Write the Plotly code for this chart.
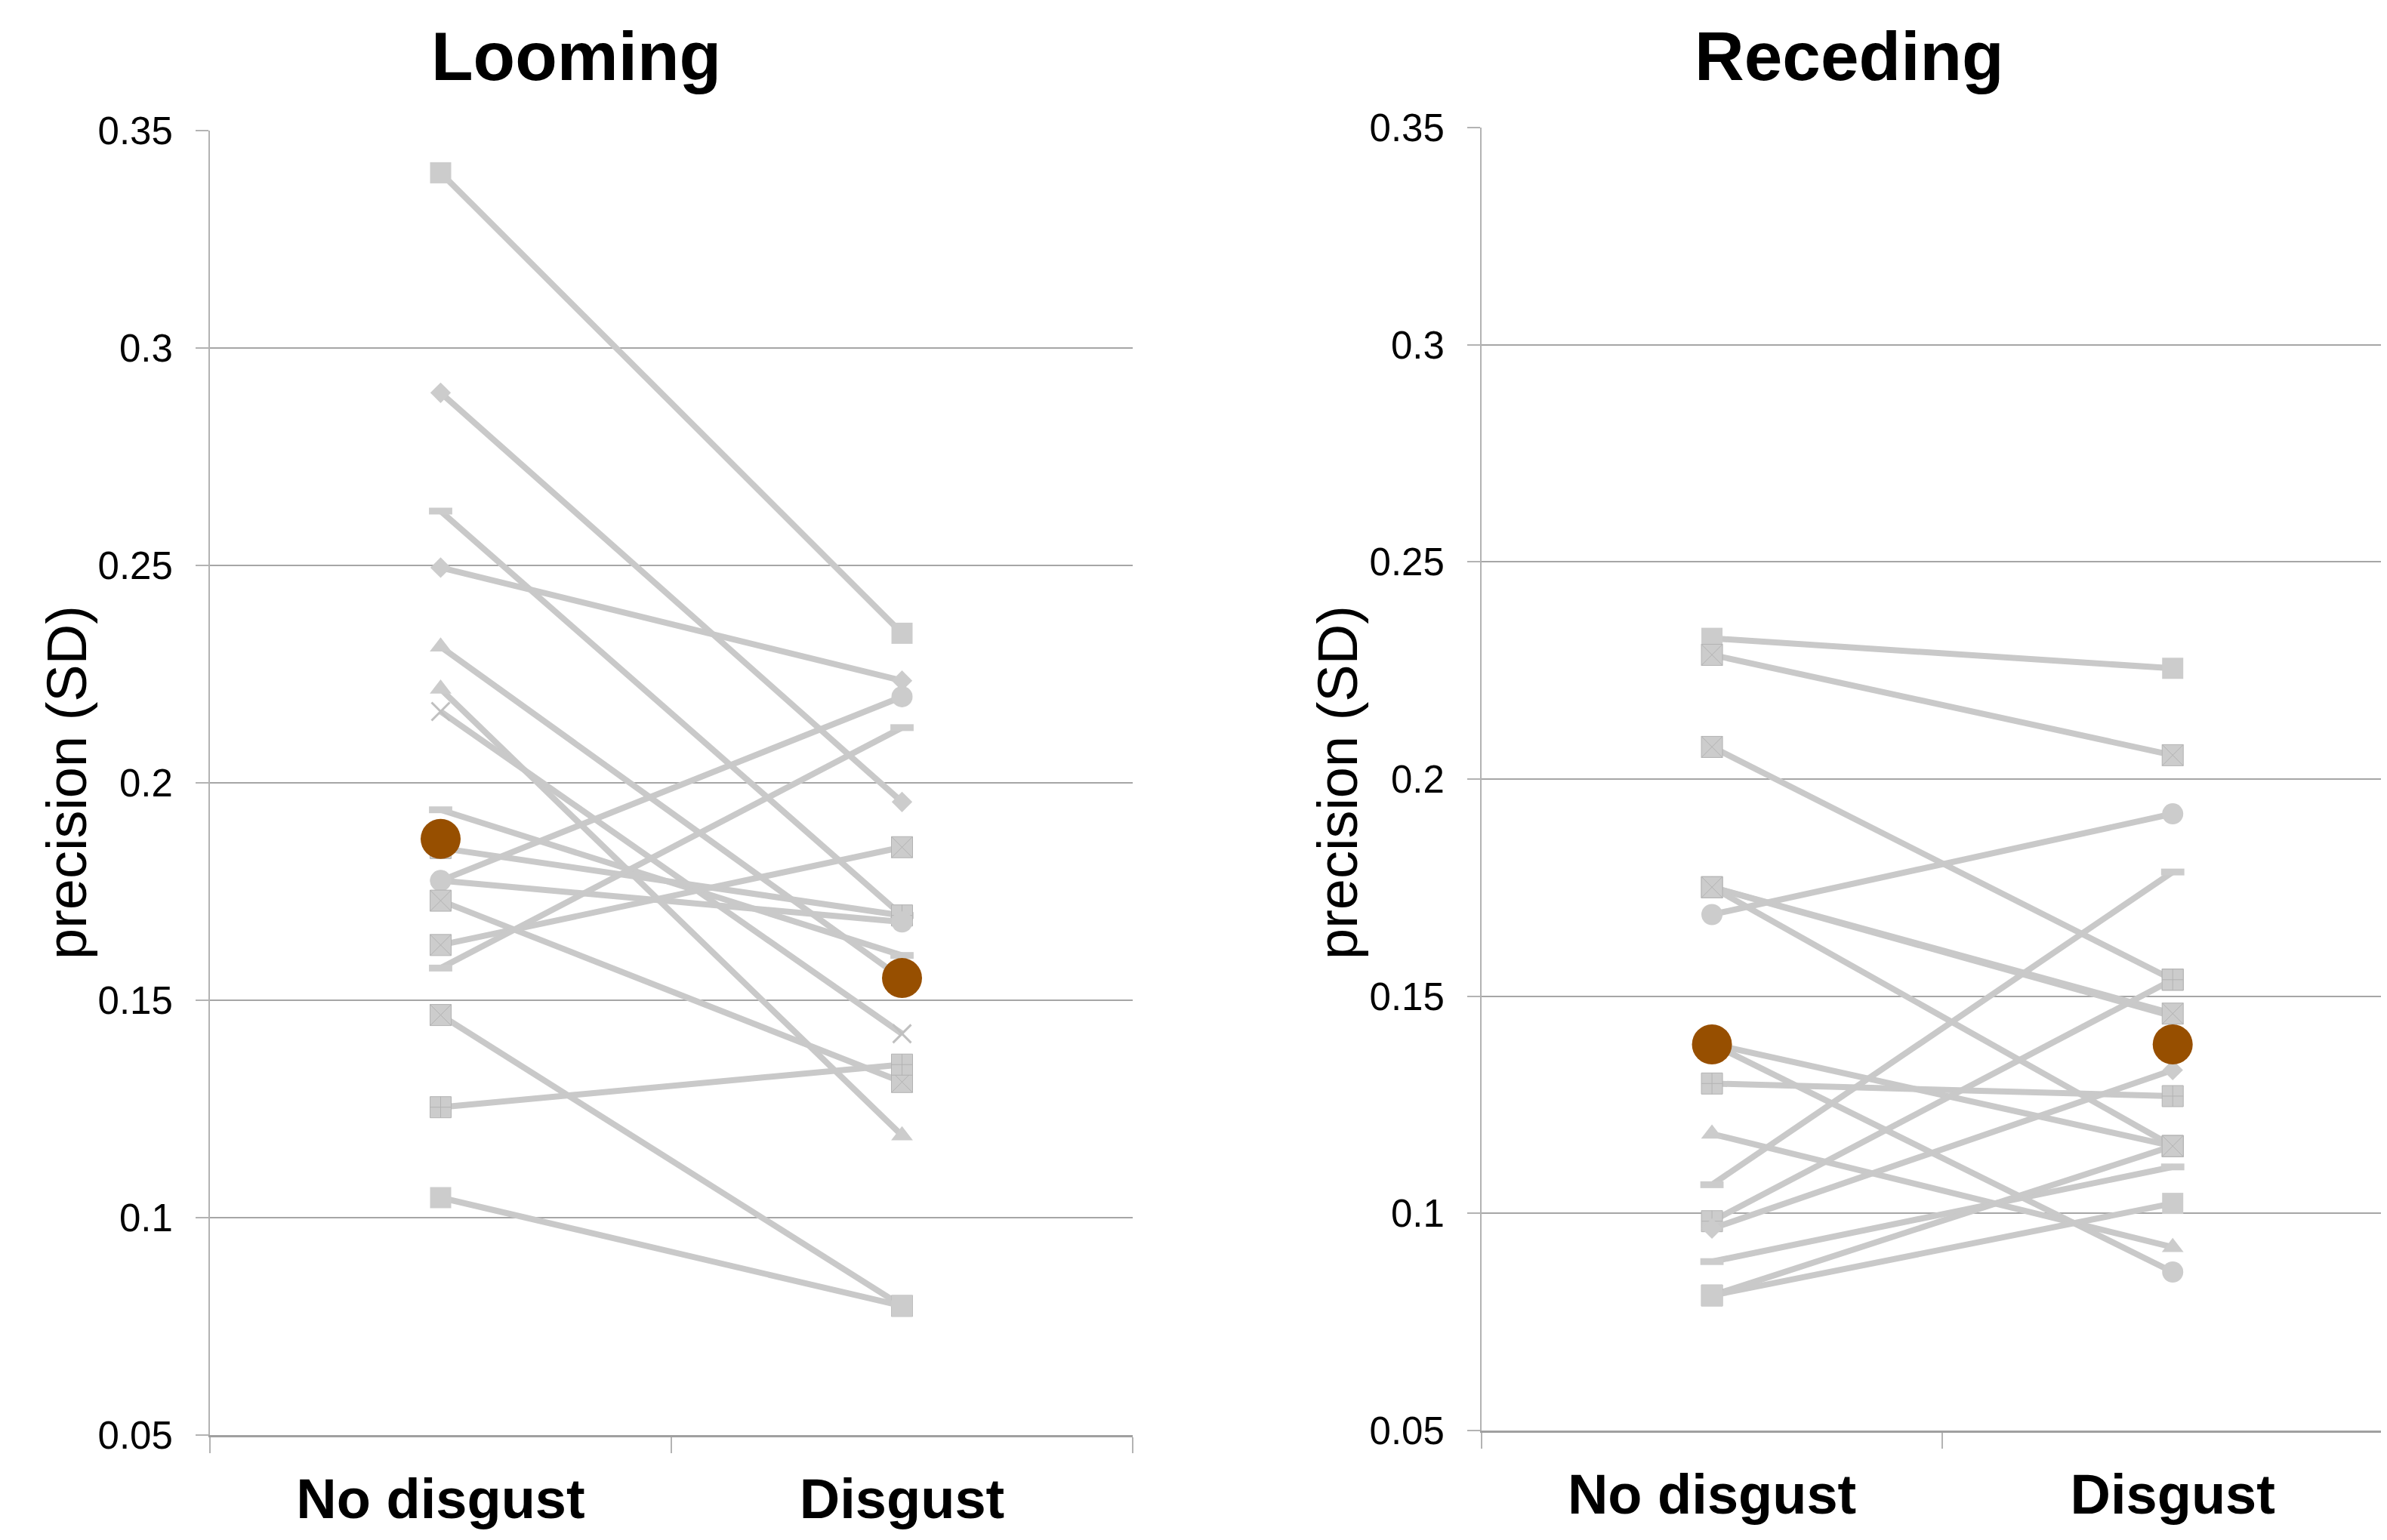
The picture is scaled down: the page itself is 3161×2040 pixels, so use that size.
import plotly.graph_objects as go

# ---------------- data ----------------
categories = ["No disgust", "Disgust"]
y_tick_values = [0.05, 0.10, 0.15, 0.20, 0.25, 0.30, 0.35]
y_tick_labels = ["0.05", "0.1", "0.15", "0.2", "0.25", "0.3", "0.35"]
panel_titles = ["Looming", "Receding"]
y_title = "precision (SD)"

looming_no_disgust = [0.3403, 0.2897, 0.2625, 0.2495, 0.2313, 0.2216, 0.2164, 0.1938, 0.1850,
                      0.1775, 0.1775, 0.1729, 0.1627, 0.1574, 0.1466, 0.1254, 0.1046]
looming_disgust = [0.2344, 0.1956, 0.1695, 0.2235, 0.1550, 0.1189, 0.1423, 0.1603, 0.1695,
                   0.2198, 0.1680, 0.1312, 0.1852, 0.2127, 0.0797, 0.1352, 0.0797]
looming_mean = [0.1871, 0.1551]

receding_no_disgust = [0.2324, 0.2286, 0.2074, 0.1751, 0.1751, 0.1751, 0.1688, 0.1390, 0.1390,
                       0.1299, 0.1183, 0.1066, 0.0982, 0.0965, 0.0889, 0.0811, 0.0811]
receding_disgust = [0.2255, 0.2055, 0.1538, 0.1454, 0.1460, 0.1155, 0.1920, 0.0865, 0.1155,
                    0.1270, 0.0922, 0.1786, 0.1538, 0.1330, 0.1107, 0.1155, 0.1023]
receding_mean = [0.1389, 0.1389]

# ---------------- styles ----------------
looming_symbols = ["square", "diamond", "line-ew", "diamond", "triangle-up", "triangle-up", "x-thin",
                   "line-ew", "square-cross", "circle", "circle", "square-x", "square-x", "line-ew",
                   "square-x", "square-cross", "square"]
receding_symbols = ["square", "square-x", "square-x", "diamond", "square-x", "square-x", "circle",
                    "circle", "square-x", "square-cross", "triangle-up", "line-ew", "square-cross",
                    "diamond", "line-ew", "square-x", "square"]

GRAY_FILL = "#cccccc"
GRAY_LINE = "#c9c9c9"
BROWN = "#974f00"
GRID = "#a6a6a6"
AXIS = "#b3b3b3"
FONT = "Liberation Sans, Arial, Helvetica, sans-serif"

# page body has an 8px margin; size the figure to fit the 3161x2040 window
OFF = 8
W, H = 3161 - 2 * OFF, 2040 - 2 * OFF


def fx(px):
    return (px - OFF) / W


def fy(py):
    return 1 - (py - OFF) / H


def marker_style(sym):
    if sym == "line-ew":
        return dict(symbol=sym, size=22, color=GRAY_FILL, line=dict(color=GRAY_FILL, width=9))
    if sym == "x-thin":
        return dict(symbol=sym, size=24, color=GRAY_FILL, line=dict(color="#c0c0c0", width=3))
    if sym == "diamond":
        return dict(symbol=sym, size=21, color=GRAY_FILL, line=dict(width=0))
    if sym == "triangle-up":
        return dict(symbol=sym, size=25, color=GRAY_FILL, line=dict(width=0))
    if sym in ("square-x", "square-cross"):
        return dict(symbol=sym, size=28, color=GRAY_FILL, line=dict(color="#b3b3b3", width=1))
    if sym == "circle":
        return dict(symbol=sym, size=28, color=GRAY_FILL, line=dict(width=0))
    return dict(symbol=sym, size=28, color=GRAY_FILL, line=dict(width=0))


fig = go.Figure()

panels = [
    (looming_no_disgust, looming_disgust, looming_mean, looming_symbols, "x", "y"),
    (receding_no_disgust, receding_disgust, receding_mean, receding_symbols, "x2", "y2"),
]

for no_vals, dis_vals, mean_vals, syms, xa, ya in panels:
    for a, b, s in zip(no_vals, dis_vals, syms):
        fig.add_trace(go.Scatter(
            x=categories, y=[a, b], mode="lines+markers",
            line=dict(color=GRAY_LINE, width=8),
            marker=marker_style(s),
            xaxis=xa, yaxis=ya, hoverinfo="skip", showlegend=False,
        ))
for no_vals, dis_vals, mean_vals, syms, xa, ya in panels:
    fig.add_trace(go.Scatter(
        x=categories, y=mean_vals, mode="markers",
        marker=dict(symbol="circle", size=53, color=BROWN, line=dict(width=0)),
        xaxis=xa, yaxis=ya, hoverinfo="skip", showlegend=False,
    ))


def xaxis_style(domain, rng):
    return dict(
        domain=domain, type="category", range=rng, automargin=False,
        tickson="boundaries", ticks="outside", ticklen=21, tickwidth=2, tickcolor=AXIS,
        showline=True, linecolor="#a0a0a0", linewidth=3,
        showgrid=False, zeroline=False,
        tickfont=dict(family=FONT, size=74, color="black", weight="bold"),
        ticklabelstandoff=18,
    )


def yaxis_style(domain, anchor):
    return dict(
        domain=domain, anchor=anchor, range=[0.05, 0.35], automargin=False,
        tickmode="array", tickvals=y_tick_values, ticktext=y_tick_labels,
        ticks="outside", ticklen=17, tickwidth=2, tickcolor=AXIS,
        showline=True, linecolor=AXIS, linewidth=2,
        showgrid=True, gridcolor=GRID, gridwidth=2, zeroline=False,
        tickfont=dict(family=FONT, size=51, color="black"),
        ticklabelstandoff=20,
    )


fig.update_layout(
    width=W, height=H,
    margin=dict(l=0, r=0, t=0, b=0, autoexpand=False),
    paper_bgcolor="white", plot_bgcolor="white",
    showlegend=False,
    xaxis=dict(**xaxis_style([fx(278), fx(1500)], [-0.5, 1.5]), anchor="y"),
    yaxis=yaxis_style([fy(1901), fy(173)], "x"),
    xaxis2=dict(**xaxis_style([fx(1962), 1.0], [-0.5, 1.452]), anchor="y2"),
    yaxis2=yaxis_style([fy(1895), fy(169)], "x2"),
)

annotations = []
for title, cx in zip(panel_titles, [763, 2449]):
    annotations.append(dict(
        text=title, x=fx(cx), y=fy(74), xref="paper", yref="paper",
        xanchor="center", yanchor="middle", showarrow=False,
        font=dict(family=FONT, size=91, color="black", weight="bold"),
    ))
for cx in [88, 1771]:
    annotations.append(dict(
        text=y_title, x=fx(cx), y=fy(1037), xref="paper", yref="paper",
        xanchor="center", yanchor="middle", showarrow=False, textangle=-90,
        font=dict(family=FONT, size=74, color="black"),
    ))
fig.update_layout(annotations=annotations)

fig.write_html("out.html")
